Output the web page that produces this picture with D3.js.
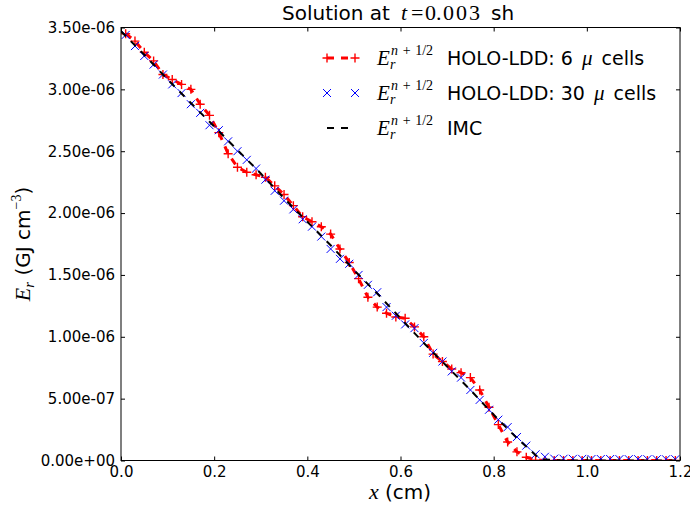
<!doctype html>
<html lang="en">
<head>
<meta charset="UTF-8">
<title>Solution at t = 0.003 sh</title>
<style>
    body { margin: 0; background: #fff; }
    text { font-family: "DejaVu Sans", sans-serif; fill: #000; }
    .m { font-family: "Liberation Serif", serif; }
    .i { font-style: italic; }
</style>
</head>
<body>
<script src="https://d3js.org/d3.v7.min.js"></script>
<script>
// cell centres (cm) shared by both HOLO-LDD series
var cellX = [0.01, 0.03, 0.05, 0.07, 0.09, 0.11, 0.13, 0.15, 0.17, 0.19,
             0.21, 0.23, 0.25, 0.27, 0.29, 0.31, 0.33, 0.35, 0.37, 0.39,
             0.41, 0.43, 0.45, 0.47, 0.49, 0.51, 0.53, 0.55, 0.57, 0.59,
             0.61, 0.63, 0.65, 0.67, 0.69, 0.71, 0.73, 0.75, 0.77, 0.79,
             0.81, 0.83, 0.85, 0.87, 0.89, 0.91, 0.93, 0.95, 0.97, 0.99,
             1.01, 1.03, 1.05, 1.07, 1.09, 1.11, 1.13, 1.15, 1.17, 1.19];

// HOLO-LDD 6 mu cells (units of 1e-6 GJ/cm^3)
var holo6 = [3.45, 3.39, 3.30, 3.23, 3.12, 3.08, 3.04, 3.00, 2.88, 2.79,
             2.65, 2.48, 2.37, 2.33, 2.31, 2.29, 2.22, 2.15, 2.06, 1.97,
             1.93, 1.89, 1.83, 1.71, 1.60, 1.47, 1.32, 1.24, 1.19, 1.16,
             1.15, 1.08, 1.00, 0.86, 0.80, 0.74, 0.71, 0.67, 0.57, 0.43,
             0.29, 0.15, 0.07, 0.026, 0.003, 0, 0, 0, 0, 0,
             0, 0, 0, 0, 0, 0, 0, 0, 0, 0];

// HOLO-LDD 30 mu cells
var holo30 = [3.44, 3.35, 3.27, 3.20, 3.12, 3.04, 2.97, 2.88, 2.81, 2.71,
              2.67, 2.58, 2.50, 2.43, 2.36, 2.27, 2.18, 2.10, 2.03, 1.95,
              1.89, 1.81, 1.71, 1.63, 1.59, 1.50, 1.42, 1.36, 1.24, 1.17,
              1.10, 1.07, 0.95, 0.87, 0.80, 0.72, 0.67, 0.57, 0.49, 0.41,
              0.33, 0.27, 0.19, 0.12, 0.05, 0.03, 0.015, 0.014, 0.013, 0.013,
              0.012, 0.012, 0.012, 0.011, 0.011, 0.011, 0.010, 0.010, 0.010, 0.010];

// IMC reference
var imcX = [0, 0.05, 0.1, 0.15, 0.2, 0.25, 0.3, 0.35, 0.4, 0.45, 0.5, 0.55,
            0.6, 0.65, 0.7, 0.75, 0.8, 0.85, 0.9, 0.95, 1.0, 1.05, 1.1, 1.15, 1.2];
var imcY = [3.47, 3.28, 3.08, 2.89, 2.70, 2.51, 2.32, 2.12, 1.93, 1.74, 1.54, 1.35,
            1.15, 0.95, 0.76, 0.57, 0.37, 0.18, 0.01, 0, 0, 0, 0, 0, 0];

var xTicks = [0, 0.2, 0.4, 0.6, 0.8, 1.0, 1.2];
var yTicks = [0, 0.5e-6, 1.0e-6, 1.5e-6, 2.0e-6, 2.5e-6, 3.0e-6, 3.5e-6];

var width = 690, height = 512;
var pL = 121, pR = 680, pT = 27.5, pB = 460.5;

var x = d3.scaleLinear().domain([0, 1.2]).range([pL, pR]);
var y = d3.scaleLinear().domain([0, 3.5e-6]).range([pB, pT]);

var svg = d3.select("body").append("svg")
    .attr("width", width)
    .attr("height", height);

svg.append("defs").append("clipPath").attr("id", "clip")
    .append("rect")
    .attr("x", pL).attr("y", pT)
    .attr("width", pR - pL).attr("height", pB - pT);

function fmtSci(v) {
    var s = v.toExponential(2);
    return s.replace(/e([+-])(\d)$/, "e$10$2");
}

var line = d3.line()
    .x(function(d) { return x(d[0]); })
    .y(function(d) { return y(d[1]); });

var redData = cellX.map(function(v, i) { return [v, holo6[i] * 1e-6]; });
var blueData = cellX.map(function(v, i) { return [v, holo30[i] * 1e-6]; });
var blackData = imcX.map(function(v, i) { return [v, imcY[i] * 1e-6]; });

var plus = "M-4.5,0L4.5,0M0,-4.5L0,4.5";
var cross = "M-4,-4L4,4M-4,4L4,-4";

var g = svg.append("g").attr("clip-path", "url(#clip)");

// red dashed with + markers
g.append("path")
    .datum(redData)
    .attr("d", line)
    .attr("fill", "none")
    .attr("stroke", "red")
    .attr("stroke-width", 3)
    .attr("stroke-dasharray", "7,7");
g.selectAll(".plus")
    .data(redData)
    .enter().append("path")
        .attr("class", "plus")
        .attr("d", plus)
        .attr("transform", function(d) { return "translate(" + x(d[0]) + "," + y(d[1]) + ")"; })
        .attr("stroke", "red")
        .attr("stroke-width", 1.4);

// blue x markers
g.selectAll(".cross")
    .data(blueData)
    .enter().append("path")
        .attr("class", "cross")
        .attr("d", cross)
        .attr("transform", function(d) { return "translate(" + x(d[0]) + "," + y(d[1]) + ")"; })
        .attr("stroke", "blue")
        .attr("stroke-width", 1);

// black dashed IMC
g.append("path")
    .datum(blackData)
    .attr("d", line)
    .attr("fill", "none")
    .attr("stroke", "black")
    .attr("stroke-width", 2)
    .attr("stroke-dasharray", "7,7");

// axes, ticks inside on all four sides
function styleAxis(sel) {
    sel.select(".domain").remove();
    sel.selectAll("line").attr("stroke", "#000");
    sel.selectAll("text").attr("font-size", 15).attr("font-family", "DejaVu Sans");
}

svg.append("g")
    .attr("transform", "translate(0," + pB + ")")
    .call(d3.axisBottom(x).tickValues(xTicks).tickFormat(d3.format(".1f"))
        .tickSizeInner(-4).tickSizeOuter(0).tickPadding(6))
    .call(styleAxis);

svg.append("g")
    .attr("transform", "translate(" + pL + ",0)")
    .call(d3.axisLeft(y).tickValues(yTicks).tickFormat(fmtSci)
        .tickSizeInner(-4).tickSizeOuter(0).tickPadding(6))
    .call(styleAxis);

svg.append("g")
    .attr("transform", "translate(0," + pT + ")")
    .call(d3.axisTop(x).tickValues(xTicks).tickFormat("")
        .tickSizeInner(-4).tickSizeOuter(0))
    .call(styleAxis);

svg.append("g")
    .attr("transform", "translate(" + pR + ",0)")
    .call(d3.axisRight(y).tickValues(yTicks).tickFormat("")
        .tickSizeInner(-4).tickSizeOuter(0))
    .call(styleAxis);

svg.append("rect")
    .attr("x", pL).attr("y", pT)
    .attr("width", pR - pL).attr("height", pB - pT)
    .attr("fill", "none")
    .attr("stroke", "#000")
    .attr("stroke-width", 1);

// title
var title = svg.append("text")
    .attr("x", 282).attr("y", 20)
    .attr("font-size", 20)
    .attr("xml:space", "preserve");
title.append("tspan").text("Solution at");
title.append("tspan").attr("class", "m i").attr("font-size", 22).attr("x", 401).text("t");
title.append("tspan").attr("class", "m").attr("font-size", 22).attr("x", 411).text("=");
title.append("tspan").attr("class", "m").attr("font-size", 22).attr("x", 425).text("0.");
title.append("tspan").attr("class", "m").attr("font-size", 22).attr("x", 443)
    .attr("letter-spacing", 2).text("003");
title.append("tspan").attr("x", 491).text("sh");

// axis labels
var xl = svg.append("text")
    .attr("x", 400).attr("y", 499)
    .attr("text-anchor", "middle")
    .attr("font-size", 20)
    .attr("xml:space", "preserve");
xl.append("tspan").attr("class", "m i").attr("font-size", 22).text("x");
xl.append("tspan").text(" (cm)");

var yl = svg.append("text")
    .attr("transform", "translate(30,244) rotate(-90)")
    .attr("text-anchor", "middle")
    .attr("font-size", 20)
    .attr("xml:space", "preserve");
yl.append("tspan").attr("class", "m i").attr("font-size", 22).text("E");
yl.append("tspan").attr("class", "m i").attr("font-size", 15).attr("dy", 4).text("r");
yl.append("tspan").attr("dy", -4).text(" (GJ cm");
yl.append("tspan").attr("class", "m").attr("font-size", 14).attr("dy", -9).text("\u22123");
yl.append("tspan").attr("dy", 9).text(")");

// legend
var legendItems = [
    {label: "HOLO-LDD: 6 ", mu: true, color: "red", marker: plus, dash: "7,7", lw: 3, mw: 1.4},
    {label: "HOLO-LDD: 30 ", mu: true, color: "blue", marker: cross, dash: null, lw: 0, mw: 1},
    {label: "IMC", mu: false, color: "black", marker: null, dash: "7,7", lw: 2, mw: 0}
];
var legendY = [65, 100, 135];

legendItems.forEach(function(d, i) {
    var by = legendY[i], cy = by - 7;
    var lg = svg.append("g");
    if (d.lw > 0) {
        lg.append("line")
            .attr("x1", 327).attr("x2", 355)
            .attr("y1", cy).attr("y2", cy)
            .attr("stroke", d.color)
            .attr("stroke-width", d.lw)
            .attr("stroke-dasharray", d.dash);
    }
    if (d.marker) {
        [327, 355].forEach(function(mx) {
            lg.append("path")
                .attr("d", d.marker)
                .attr("transform", "translate(" + mx + "," + cy + ")")
                .attr("stroke", d.color)
                .attr("stroke-width", d.mw);
        });
    }
    var t = lg.append("text")
        .attr("x", 377).attr("y", by)
        .attr("font-size", 19)
        .attr("xml:space", "preserve");
    t.append("tspan").attr("class", "m i").attr("font-size", 21).text("E");
    t.append("tspan").attr("class", "m i").attr("font-size", 14).attr("x", 390).attr("dy", 4).text("r");
    t.append("tspan").attr("class", "m i").attr("font-size", 14).attr("x", 391).attr("dy", -14).text("n");
    t.append("tspan").attr("class", "m").attr("font-size", 14).text("\u2004+\u20041/2");
    t.append("tspan").attr("x", 447).attr("dy", 10).text(d.label);
    if (d.mu) {
        t.append("tspan").attr("class", "m i").attr("font-size", 21).attr("dx", 3).text("\u03bc");
        t.append("tspan").attr("dx", 3).text(" cells");
    }
});
</script>
</body>
</html>
